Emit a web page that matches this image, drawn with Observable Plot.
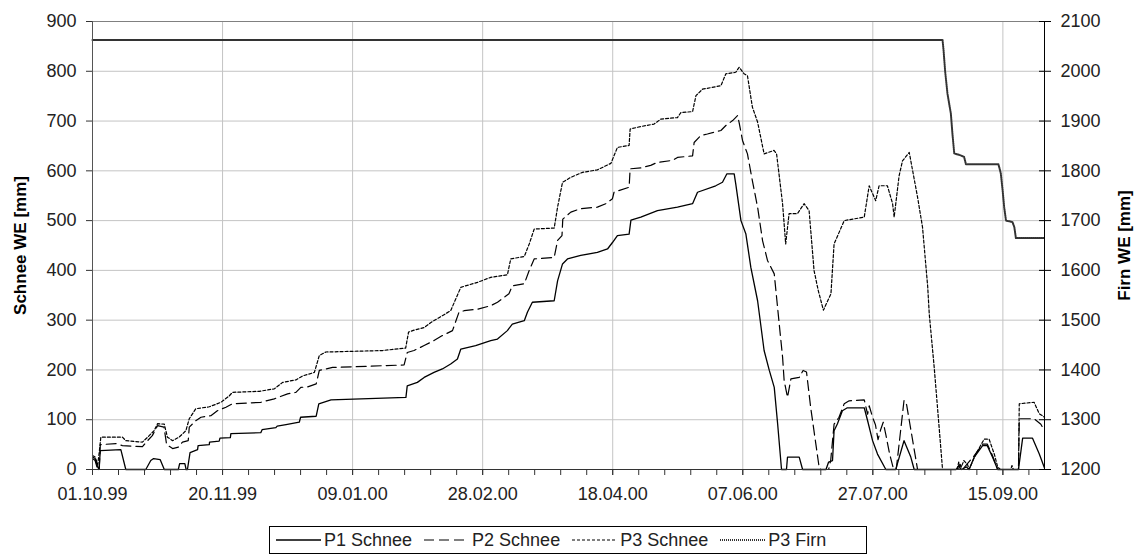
<!DOCTYPE html>
<html>
<head>
<meta charset="utf-8">
<script src="https://cdn.jsdelivr.net/npm/d3@7"></script>
<script src="https://cdn.jsdelivr.net/npm/@observablehq/plot@0.6"></script>
<style>
  html, body { margin: 0; padding: 0; background: #fff; }
  body { width: 1140px; height: 555px; position: relative; overflow: hidden; font-family: "Liberation Sans", Arial, sans-serif; }
  #legend { position: absolute; left: 269px; top: 526px; width: 596px; height: 26px; border: 1px solid #000; display: flex; align-items: center; font-size: 18px; color: #222; box-sizing: content-box; }
  #legend .item { display: flex; align-items: center; margin-left: 6px; margin-right: 6px; }
  #legend svg { margin-right: 3px; }
</style>
</head>
<body>
<div id="chart"></div>
<div id="legend"></div>
<script>
// ---- data: [day offset from 01.10.1999, value] ----
const startDate = "1999-10-01";
const endDate = "2000-10-01";
const p1Schnee = [[0,25],[1,22],[2,5],[2.5,0],[3,38],[10.9,40],[12.8,0],[20.5,0],[22.4,18],[23.5,22],[26,20],[27.6,0],[33,0],[33.5,12],[35.5,12],[36,0],[36.5,0],[37.5,34],[40.4,40],[40.6,48],[44.9,50],[45,55],[48.7,57],[49,63],[53,64],[53.2,72],[64.7,74],[65.2,80],[70.5,84],[71,87],[74.4,90],[79.5,95],[80,105],[86,107],[87,132],[91.7,140],[120.5,145],[121,168],[124.9,175],[127.5,185],[131.3,195],[134.5,202],[137.7,212],[140.3,222],[141.6,242],[147.3,249],[153.1,259],[155.7,262],[159.5,279],[161.4,292],[166,299],[167.2,316],[169.1,336],[177.5,339],[178.8,379],[180.7,413],[182.6,423],[187.7,430],[194.1,436],[198,443],[199.9,456],[201.8,470],[206.3,473],[207,501],[210.8,507],[217.2,520],[224.9,527],[230.7,534],[232.6,557],[239.6,570],[242.2,577],[243.9,594],[246.7,594],[247.3,574],[249.3,500],[251.2,473],[253.1,406],[255.7,339],[258.2,239],[260.2,199],[262.1,165],[263.4,92],[264.9,0],[266.8,0],[267.2,25],[271.7,25],[273,0],[282,0],[283,15],[284.5,18],[285.1,78],[286.4,92],[288.3,118],[290.2,124],[296.7,124],[298,98],[299.9,58],[301.8,31],[305,0],[308.8,0],[312,58],[314.6,25],[315.9,0],[332,0],[333,8],[334,0],[336,5],[337,0],[339,25],[342.2,48],[344,48],[346,25],[348,0],[356,0],[357.6,63],[361.4,63],[364,31],[366,3]];
const p2Schnee = [[0,22],[1,18],[2,0],[2.6,0],[3,50],[9,52],[11.5,48],[19.2,46],[21.2,58],[23,68],[25,88],[27.5,85],[28.5,50],[30.8,42],[33,45],[34.6,55],[36.8,58],[37.2,85],[39.7,98],[41.7,105],[45.5,108],[48,118],[51.3,125],[53.8,132],[64.7,135],[69.9,142],[75,152],[78.2,155],[80.1,165],[82.7,166],[86,172],[87.2,199],[92.3,205],[119.8,210],[121,235],[123.6,239],[127.5,249],[131.3,259],[134.5,269],[138.4,279],[140.9,316],[142.9,319],[148,322],[153.1,329],[155.7,336],[160.1,353],[161.4,369],[166,373],[167.9,400],[169.8,423],[177.5,426],[178.8,460],[180.5,470],[180.8,503],[183.9,517],[187.7,524],[194.1,527],[197.3,534],[199.9,544],[200.5,557],[206.3,567],[206.7,604],[210.8,606],[214.6,611],[217.2,617],[223,621],[224.9,627],[230.7,630],[231.3,657],[233.9,671],[236.4,674],[241.6,681],[243.5,691],[246.1,701],[248,711],[248.6,697],[249.9,661],[251.8,634],[253.7,580],[255.7,527],[257.6,460],[259.5,420],[262.1,393],[264,293],[265.3,226],[265.9,179],[267.2,145],[268.5,182],[271.7,185],[273.2,199],[274.5,196],[276.1,125],[278.1,51],[279.4,3],[280,0],[283,0],[283.8,18],[285.1,91],[287,105],[289,132],[290.9,138],[296.7,140],[298,111],[298.6,128],[299.9,105],[301,90],[302,60],[303,80],[304,95],[305,70],[306.5,30],[308,0],[309,0],[312,139],[313,130],[317.2,0],[333,0],[333.5,10],[334.5,0],[339,28],[342.2,51],[344,51],[346,28],[348,0],[356,0],[356.3,102],[362,102],[364.6,91],[366,78]];
const p3Schnee = [[0,28],[1,25],[2,10],[2.6,35],[3.2,65],[11.5,65],[12.8,58],[19.2,55],[21.2,65],[23.7,78],[25,92],[27.6,91],[28.8,65],[30.8,58],[33.3,65],[35.9,78],[37.2,102],[39.7,122],[44.9,126],[49.4,135],[52.6,148],[53.8,155],[64.1,157],[69.9,162],[73.1,175],[78.2,180],[80.8,188],[85.3,195],[87.2,229],[89.7,236],[111.5,239],[120.4,244],[121.5,276],[123.6,280],[127.5,285],[130,295],[133.2,305],[137.7,319],[141.6,366],[148,376],[153.1,386],[159.5,391],[160.8,423],[166,428],[167.9,453],[169.8,483],[177.5,485],[178.8,527],[180.7,577],[183.9,587],[188.4,597],[194.1,602],[199.3,615],[201.8,647],[206.3,651],[206.7,684],[210.8,689],[215.9,694],[218.5,704],[224.9,707],[226.2,717],[230.7,719],[232,751],[234.5,764],[241.6,771],[243.5,795],[247.3,798],[248.6,808],[250.5,795],[251.8,791],[253.7,728],[255.7,698],[258.2,634],[262,641],[263,634],[265.3,534],[266.5,453],[267.8,514],[271,514],[273.6,534],[275.5,520],[277.4,400],[279,360],[281,320],[283.9,353],[285.1,453],[289,500],[296.7,507],[298.6,570],[301.1,540],[302.4,570],[305.6,570],[307.6,534],[308.2,507],[310.1,590],[311.4,620],[314,637],[317.2,547],[319.1,487],[321.1,367],[321.7,312],[323.6,205],[325.5,84],[326.8,0],[332.5,0],[333,15],[334,5],[335,18],[336.4,10],[337,0],[339.6,31],[342.8,61],[344.7,61],[346.7,31],[348,5],[349,0],[353,0],[353.5,8],[354,0],[356,0],[356.3,132],[362,135],[364,112],[366,105]];
const p3Firn = [[0,2063],[326.8,2063],[327.2,2042],[327.8,2000],[328.7,1955],[330,1915],[330.6,1875],[331.3,1835],[333.8,1831],[335.1,1828],[335.8,1813],[348.3,1813],[349.2,1795],[349.9,1761],[350.5,1727],[351.2,1700],[353.7,1697],[354.4,1687],[355,1665],[366,1665]];
const xMajorDays = [0, 50, 100, 150, 200, 250, 300, 350];
const xMinorDays = [0,10,20,30,40,50,60,70,80,90,100,110,120,130,140,150,160,170,180,190,200,210,220,230,240,250,260,270,280,290,300,310,320,330,340,350,360];
const leftTicks = [0, 100, 200, 300, 400, 500, 600, 700, 800, 900];
const rightTicks = [1200, 1300, 1400, 1500, 1600, 1700, 1800, 1900, 2000, 2100];
const rightOffset = 1200;
const leftTitle = "Schnee WE [mm]";
const rightTitle = "Firn WE [mm]";
const seriesNames = ["P1 Schnee", "P2 Schnee", "P3 Schnee", "P3 Firn"];

// ---- build ----
const t0 = new Date(startDate + "T00:00:00Z").getTime();
const toDate = d => new Date(t0 + d * 864e5);
const fmt = d3.utcFormat("%d.%m.%y");
const rows = (arr, name, shift = 0) => arr.map(([d, v]) => ({date: toDate(d), v: v - shift, name}));

const styles = {
  "P1 Schnee": {stroke: "#000", strokeWidth: 1.3, dash: null},
  "P2 Schnee": {stroke: "#000", strokeWidth: 1.2, dash: "10,5"},
  "P3 Schnee": {stroke: "#000", strokeWidth: 1.2, dash: "3,2"},
  "P3 Firn": {stroke: "#333", strokeWidth: 2, dash: "1,1"}
};
const lineMark = (data, name) => Plot.line(data, {
  x: "date", y: "v", stroke: styles[name].stroke, strokeWidth: styles[name].strokeWidth,
  strokeDasharray: styles[name].dash, curve: "linear"
});

const majorDates = xMajorDays.map(toDate);
const minorDates = xMinorDays.map(toDate);
const rightPos = rightTicks.map(v => v - rightOffset);

const chart = Plot.plot({
  width: 1140, height: 518,
  marginLeft: 92, marginRight: 96, marginTop: 21, marginBottom: 49,
  style: {fontFamily: "'Liberation Sans', Arial, sans-serif", fontSize: "18px", color: "#222", background: "#fff"},
  x: {type: "utc", domain: [new Date(startDate + "T00:00:00Z"), new Date(endDate + "T00:00:00Z")], label: null},
  y: {domain: [0, 900], label: null},
  marks: [
    Plot.gridX(majorDates, {stroke: "#c4c4c4", strokeOpacity: 1}),
    Plot.gridY(leftTicks, {stroke: "#c4c4c4", strokeOpacity: 1}),
    Plot.ruleY([900], {stroke: "#808080"}),
    lineMark(rows(p3Firn, "P3 Firn", rightOffset), "P3 Firn"),
    lineMark(rows(p3Schnee, "P3 Schnee"), "P3 Schnee"),
    lineMark(rows(p2Schnee, "P2 Schnee"), "P2 Schnee"),
    lineMark(rows(p1Schnee, "P1 Schnee"), "P1 Schnee"),
    Plot.ruleX([majorDates[0]], {stroke: "#555"}),
    Plot.ruleX([new Date(endDate + "T00:00:00Z")], {stroke: "#000"}),
    Plot.ruleY([0], {stroke: "#333"}),
    Plot.axisX(minorDates, {anchor: "bottom", tickSize: 6, tickFormat: () => "", stroke: "#333", label: null}),
    Plot.axisX(majorDates, {anchor: "bottom", tickSize: 6, tickPadding: 12, tickFormat: fmt, stroke: "#333", label: null}),
    Plot.axisY(leftTicks, {anchor: "left", tickSize: 6, tickPadding: 10, stroke: "#333", label: null}),
    Plot.axisY(rightPos, {anchor: "right", tickSize: 12, dx: -6, tickFormat: () => "", stroke: "#000", label: null}),
    Plot.axisY(rightPos, {anchor: "right", tickSize: 0, tickPadding: 16, tickFormat: (d, i) => String(rightTicks[i]), label: null}),
    Plot.text([leftTitle], {frameAnchor: "left", dx: -72, rotate: -90, textAnchor: "middle", fontWeight: "bold", fontSize: 17, fill: "#000"}),
    Plot.text([rightTitle], {frameAnchor: "right", dx: 80, rotate: -90, textAnchor: "middle", fontWeight: "bold", fontSize: 17, fill: "#000"})
  ]
});
document.getElementById("chart").appendChild(chart);

// ---- legend ----
const legend = document.getElementById("legend");
seriesNames.forEach(name => {
  const s = styles[name];
  const item = document.createElement("div");
  item.className = "item";
  item.innerHTML = `<svg width="45" height="10"><line x1="0" y1="5" x2="45" y2="5" stroke="${s.stroke}" stroke-width="${s.strokeWidth}" ${s.dash ? `stroke-dasharray="${s.dash}"` : ""}/></svg><span>${name}</span>`;
  legend.appendChild(item);
});
</script>
</body>
</html>
